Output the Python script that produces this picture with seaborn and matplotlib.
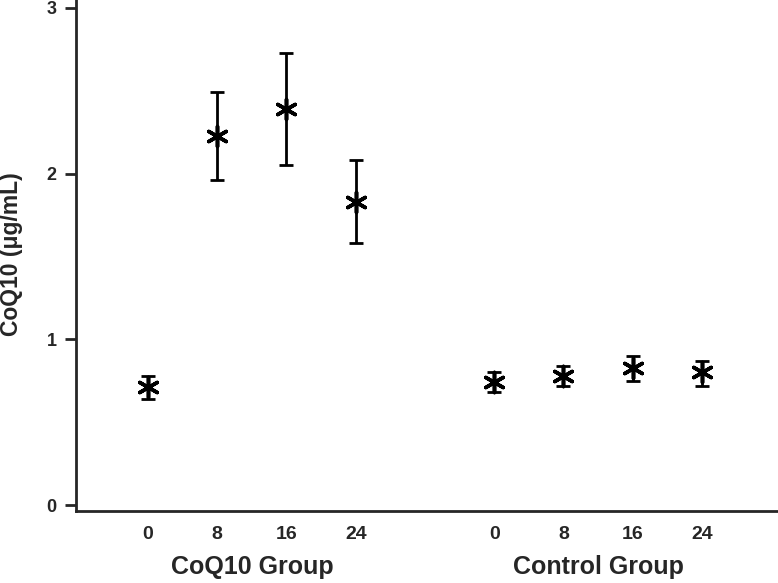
import matplotlib
matplotlib.use("Agg")
import matplotlib.pyplot as plt
import seaborn as sns
import pandas as pd

groups = ["CoQ10 Group", "Control Group"]
weeks = ["0", "8", "16", "24"]
coq10_mean = [0.71, 2.23, 2.39, 1.83]
coq10_low = [0.64, 1.96, 2.05, 1.58]
coq10_high = [0.78, 2.49, 2.73, 2.08]
ctrl_mean = [0.74, 0.78, 0.83, 0.80]
ctrl_low = [0.68, 0.72, 0.75, 0.72]
ctrl_high = [0.80, 0.84, 0.90, 0.87]
y_ticks = [0, 1, 2, 3]

rows = []
for g, (m, lo, hi) in zip(groups, [(coq10_mean, coq10_low, coq10_high),
                                   (ctrl_mean, ctrl_low, ctrl_high)]):
    for w, a, b, c in zip(weeks, m, lo, hi):
        rows.append(dict(group=g, week=w, mean=a, low=b, high=c))
df = pd.DataFrame(rows)
# position: index within group, groups separated by one empty slot
df["pos"] = [groups.index(g) * (len(weeks) + 1) + weeks.index(w)
             for g, w in zip(df["group"], df["week"])]

sns.set_style("ticks")
plt.rcParams["font.family"] = ["Liberation Sans", "DejaVu Sans"]
plt.rcParams["font.weight"] = "bold"

fig = plt.figure(figsize=(7.78, 5.83), dpi=100)
ax = fig.add_axes([0.0977, 0.1235, 0.9023, 0.8765])

ax.errorbar(df["pos"], df["mean"],
            yerr=[df["mean"] - df["low"], df["high"] - df["mean"]],
            fmt="none", ecolor="black", elinewidth=2, capsize=5, capthick=2)
sns.scatterplot(data=df, x="pos", y="mean", ax=ax, marker=(6, 2, 0),
                s=210, color="black", linewidth=2.6, edgecolor="black",
                legend=False, zorder=3)

ax.set_xlim(-1.04, 9.1)
ax.set_ylim(-0.036, 3.048)
ax.set_yticks(y_ticks)
ax.set_yticklabels([str(t) for t in y_ticks], fontsize=13, fontweight="bold")
ax.set_xticks(df["pos"])
ax.set_xticklabels(df["week"], fontsize=14, fontweight="bold")
ax.tick_params(axis="x", length=0, pad=11)
ax.tick_params(axis="y", length=8, width=2, pad=6)
for s in ["top", "right"]:
    ax.spines[s].set_visible(False)
for s in ["left", "bottom"]:
    ax.spines[s].set_linewidth(2)
ax.set_xlabel("")
ax.set_ylabel("")
fig.text(12 / 778, 1 - 254 / 583, "CoQ10 (\u03bcg/mL)", rotation=90,
         ha="center", va="center", fontsize=16.5, fontweight="bold")

for gi, g in enumerate(groups):
    sub = df[df["group"] == g]
    center = (sub["pos"].min() + sub["pos"].max()) / 2
    ax.text(center, -0.376, g, ha="center", va="center", fontsize=18,
            fontweight="bold", transform=ax.transData, clip_on=False)

fig.savefig("out.png", dpi=100)
